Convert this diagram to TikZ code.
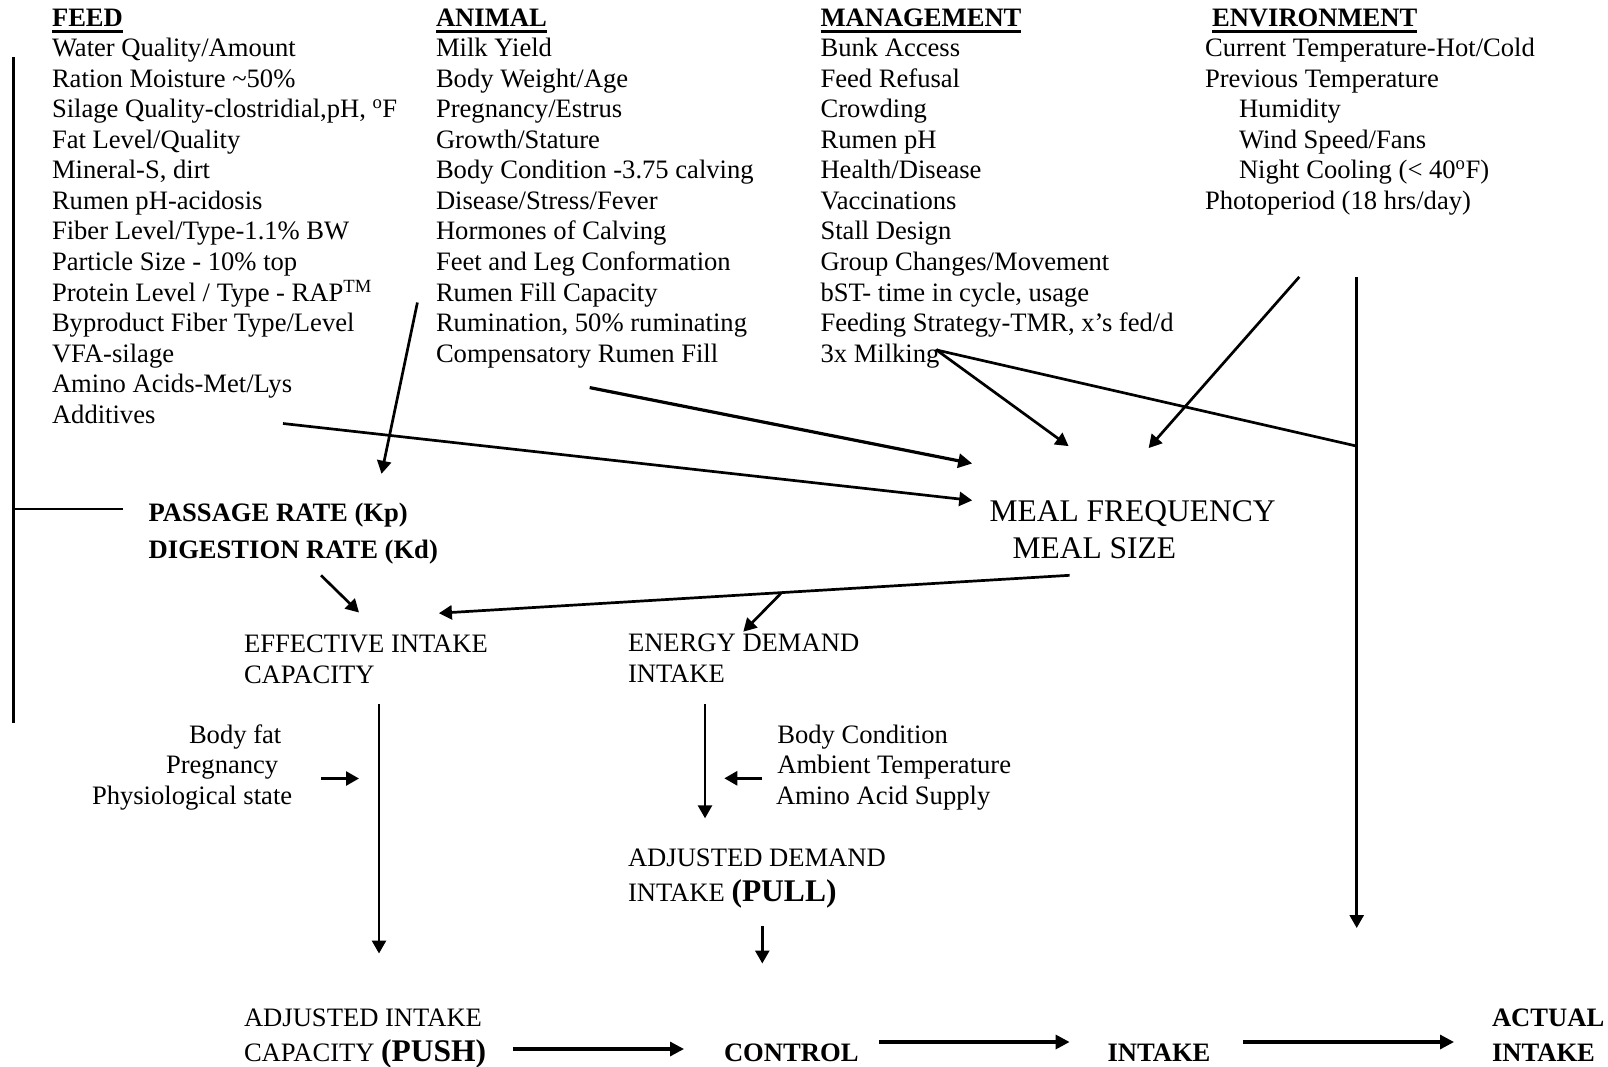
\documentclass[tikz,border=0pt]{standalone}
\usepackage{fontspec}
\setmainfont{Liberation Serif}
\usetikzlibrary{arrows.meta,calc}
\newcommand\dfbody{\fontsize{26.6}{30.6}\selectfont}
\newcommand\dfbig{\fontsize{31.5}{36}\selectfont}
\begin{document}
\begin{tikzpicture}[x=1pt,y=-1pt,
  every node/.style={inner sep=0pt,outer sep=0pt,anchor=base west,font=\dfbody},
  hdr/.style={font=\dfbody\bfseries},
  bld/.style={font=\dfbody\bfseries},
  bigtxt/.style={font=\dfbig},
  ln/.style={line width=2.7pt},
  arr/.style={line width=2.7pt,-{Triangle[length=13pt,width=14pt]}},
  tarr/.style={line width=3.2pt,-{Triangle[length=14pt,width=14pt]}},
  uline/.style={line width=2.6pt}
]
\useasboundingbox (0,0) rectangle (1608,1067);

% headers
\node[hdr] (hFeed) at (52,26.7) {FEED};
\node[hdr] (hAnimal) at (436,26.7) {ANIMAL};
\node[hdr] (hMgmt) at (820.5,26.7) {MANAGEMENT};
\node[hdr] (hEnv) at (1212,26.7) {ENVIRONMENT};
\foreach \h in {hFeed,hAnimal,hMgmt,hEnv}
  \draw[uline] ([yshift=-5pt]\h.base west) -- ([yshift=-5pt]\h.base east);

% FEED column
\foreach \t [count=\i] in {
  {Water Quality/Amount},
  {Ration Moisture \textasciitilde50\%},
  {Silage Quality-clostridial,pH, \textsuperscript{o}F},
  {Fat Level/Quality},
  {Mineral-S, dirt},
  {Rumen pH-acidosis},
  {Fiber Level/Type-1.1\% BW},
  {Particle Size - 10\% top},
  {Protein Level / Type - RAP\textsuperscript{TM}},
  {Byproduct Fiber Type/Level},
  {VFA-silage},
  {Amino Acids-Met/Lys},
  {Additives}}
  \node (feed\i) at (52,{56.7+30.55*(\i-1)}) {\t};

% ANIMAL column
\foreach \t [count=\i] in {
  {Milk Yield},
  {Body Weight/Age},
  {Pregnancy/Estrus},
  {Growth/Stature},
  {Body Condition -3.75 calving},
  {Disease/Stress/Fever},
  {Hormones of Calving},
  {Feet and Leg Conformation},
  {Rumen Fill Capacity},
  {Rumination, 50\% ruminating},
  {Compensatory Rumen Fill}}
  \node (anim\i) at (436,{56.7+30.55*(\i-1)}) {\t};

% MANAGEMENT column
\foreach \t [count=\i] in {
  {Bunk Access},
  {Feed Refusal},
  {Crowding},
  {Rumen pH},
  {Health/Disease},
  {Vaccinations},
  {Stall Design},
  {Group Changes/Movement},
  {bST- time in cycle, usage},
  {Feeding Strategy-TMR, x’s fed/d},
  {3x Milking}}
  \node (mgmt\i) at (820.5,{56.7+30.55*(\i-1)}) {\t};

% ENVIRONMENT column
\node (env1) at (1205,56.7) {Current Temperature-Hot/Cold};
\node (env2) at (1205,87.25) {Previous Temperature};
\node (env3) at (1239,117.8) {Humidity};
\node (env4) at (1239,148.35) {Wind Speed/Fans};
\node (env5) at (1239,178.9) {Night Cooling (< 40\textsuperscript{o}F)};
\node (env6) at (1205,209.45) {Photoperiod (18 hrs/day)};

% middle
\node[bld] (pass) at (148.7,521.5) {PASSAGE RATE (Kp)};
\node[bld] (dig) at (148.7,558.3) {DIGESTION RATE (Kd)};
\node[bigtxt] (mealf) at (989.5,521.5) {MEAL FREQUENCY};
\node[bigtxt] (meals) at (1012.5,558.5) {MEAL SIZE};
\node (eff1) at (244,652) {EFFECTIVE INTAKE};
\node (eff2) at (244,683) {CAPACITY};
\node (en1) at (628,651.7) {ENERGY DEMAND};
\node (en2) at (628,682.7) {INTAKE};
\node (bf) at (189,743) {Body fat};
\node (preg) at (166,773.6) {Pregnancy};
\node (phys) at (92,804.2) {Physiological state};
\node (bc) at (777.3,743) {Body Condition};
\node (amb) at (777.3,773.6) {Ambient Temperature};
\node (amino) at (776,804.2) {Amino Acid Supply};
\node (adj1) at (628,866.7) {ADJUSTED DEMAND};
\node (adj2) at (628,901.7) {INTAKE {\dfbig\bfseries (PULL)}};

% bottom
\node (ai1) at (244,1026) {ADJUSTED INTAKE};
\node (ai2) at (244,1061) {CAPACITY {\dfbig\bfseries (PUSH)}};
\node[bld] (ctrl) at (724,1061) {CONTROL};
\node[bld] (intk) at (1107.5,1061) {INTAKE};
\node[bld] (act1) at (1492,1026) {ACTUAL};
\node[bld] (act2) at (1492,1061) {INTAKE};

% connector end points
\coordinate (brTop) at (13.3,57);
\coordinate (brBot) at (13.3,723);
\coordinate (brMid) at (13.3,509);
\coordinate (brEnd) at (123,509);
\coordinate (c1s) at (417.4,302.5);
\coordinate (c1e) at (381.5,473.8);
\coordinate (c2s) at (283,423.5);
\coordinate (c2e) at (972.2,500.4);
\coordinate (c3s) at (589.7,387.6);
\coordinate (c3e) at (972.2,463.5);
\coordinate (milk) at (936.5,350);
\coordinate (c4e) at (1068.6,446.1);
\coordinate (c6s) at (1299.3,276.9);
\coordinate (c6e) at (1148.6,448.1);
\coordinate (c7s) at (1356.7,276.9);
\coordinate (c7e) at (1356.7,928);
\coordinate (c5e) at (1356.7,446.1);
\coordinate (c8s) at (1069.6,575.3);
\coordinate (c8e) at (438.9,613.2);
\coordinate (c9s) at ($(c8s)!0.4565!(c8e)$);
\coordinate (c9e) at (743.3,631.7);
\coordinate (c10s) at (321,575.3);
\coordinate (c10e) at (359,612.5);
\coordinate (c11s) at (379,704);
\coordinate (c11e) at (379,953.5);
\coordinate (c12s) at (321,778.5);
\coordinate (c12e) at (359,778.5);
\coordinate (c13s) at (705,704);
\coordinate (c13e) at (705,818.3);
\coordinate (c14s) at (762.3,778.3);
\coordinate (c14e) at (724.3,778.3);
\coordinate (c15s) at (762.3,926);
\coordinate (c15e) at (762.3,963.5);
\coordinate (c16s) at (512.8,1049);
\coordinate (c16e) at (684,1049);
\coordinate (c17s) at (878.9,1042);
\coordinate (c17e) at (1069.6,1042);
\coordinate (c18s) at (1243,1042);
\coordinate (c18e) at (1454,1042);

% connectors
\draw[ln] (brTop) -- (brBot);
\draw[ln] (brMid) -- (brEnd);
\draw[arr] (c1s) -- (c1e);
\draw[arr] (c2s) -- (c2e);
\draw[tarr] (c3s) -- (c3e);
\draw[arr] (milk) -- (c4e);
\draw[ln] (milk) -- (c5e);
\draw[arr] (c6s) -- (c6e);
\draw[arr] (c7s) -- (c7e);
\draw[arr] (c8s) -- (c8e);
\draw[arr] (c9s) -- (c9e);
\draw[arr] (c10s) -- (c10e);
\draw[arr] (c11s) -- (c11e);
\draw[arr] (c12s) -- (c12e);
\draw[arr] (c13s) -- (c13e);
\draw[arr] (c14s) -- (c14e);
\draw[arr] (c15s) -- (c15e);
\draw[tarr] (c16s) -- (c16e);
\draw[tarr] (c17s) -- (c17e);
\draw[tarr] (c18s) -- (c18e);
\end{tikzpicture}
\end{document}
